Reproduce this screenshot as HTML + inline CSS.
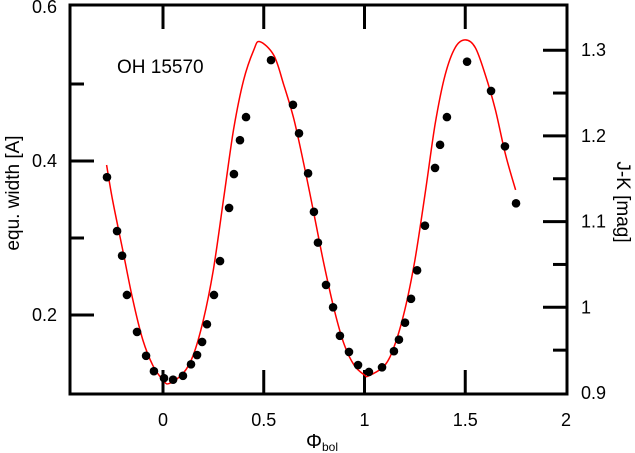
<!DOCTYPE html>
<html><head><meta charset="utf-8"><style>
html,body{margin:0;padding:0;background:#fff;}
svg{display:block;font-family:"Liberation Sans",Arial,sans-serif;}
</style></head><body>
<svg id="chart" width="635" height="453" viewBox="0 0 635 453" xmlns="http://www.w3.org/2000/svg">
<g id="axes"></g>
<path id="fit-line" fill="none" stroke="#ff0000" stroke-width="1.5"/>
<g id="points"></g>
<text x="117" y="73" font-size="19">OH 15570</text>
<text transform="translate(19,193) rotate(-90)" text-anchor="middle" font-size="19">equ. width [A]</text>
<text transform="translate(617,202) rotate(90)" text-anchor="middle" font-size="19">J-K [mag]</text>
<text x="306" y="448" font-size="20">Φ<tspan font-size="12" dy="3">bol</tspan></text>
</svg>
<script>
const phase=[-0.278,-0.228,-0.203,-0.179,-0.129,-0.084,-0.045,0.005,0.050,0.099,0.139,0.169,0.194,0.218,0.253,0.283,0.328,0.352,0.382,0.412,0.536,0.645,0.675,0.720,0.749,0.769,0.809,0.844,0.878,0.923,0.968,1.022,1.087,1.146,1.171,1.201,1.231,1.261,1.300,1.350,1.375,1.409,1.509,1.628,1.697,1.752];
const eqWidth=[0.379,0.309,0.277,0.226,0.178,0.147,0.127,0.118,0.116,0.121,0.136,0.148,0.165,0.188,0.226,0.270,0.339,0.383,0.427,0.457,0.531,0.473,0.436,0.384,0.334,0.294,0.239,0.210,0.173,0.152,0.135,0.126,0.132,0.153,0.168,0.190,0.221,0.258,0.316,0.391,0.421,0.457,0.529,0.491,0.419,0.345];
const fitPhase=[-0.28,-0.25,-0.2,-0.15,-0.1,-0.05,0,0.03,0.1,0.15,0.2,0.25,0.3,0.35,0.4,0.45,0.48,0.55,0.6,0.65,0.7,0.75,0.8,0.85,0.9,0.95,1.0,1.02,1.1,1.15,1.2,1.25,1.3,1.35,1.4,1.45,1.5,1.55,1.6,1.65,1.7,1.75];
const fitJK=[1.166,1.125,1.067,1.009,0.962,0.932,0.915,0.911,0.923,0.944,0.985,1.044,1.125,1.207,1.265,1.300,1.310,1.294,1.259,1.219,1.166,1.108,1.049,0.997,0.956,0.932,0.921,0.920,0.932,0.956,0.997,1.055,1.131,1.213,1.271,1.303,1.312,1.303,1.271,1.230,1.178,1.137];
const xTicks=[0,0.5,1,1.5,2];
const xTickLabels=["0","0.5","1","1.5","2"];
const yLeftTicks=[0.2,0.4,0.6];
const yLeftMinor=[0.3,0.5];
const yRightTicks=[0.9,1,1.1,1.2,1.3];
const yRightLabels=["0.9","1","1.1","1.2","1.3"];
const yRightMinor=[0.95,1.05,1.15,1.25];

const L=70,R=567,T=5,B=394;
const xs=p=>163+p*201.5;
const yl=v=>315-(v-0.2)*770;
const yr=v=>393-(v-0.9)*857;
const NS="http://www.w3.org/2000/svg";
const axes=document.getElementById('axes');
function mk(tag,attrs,parent){const e=document.createElementNS(NS,tag);for(const k in attrs)e.setAttribute(k,attrs[k]);parent.appendChild(e);return e;}
const frame=mk('rect',{x:L,y:T,width:R-L,height:B-T,fill:'none',stroke:'#000','stroke-width':3},axes);


xTicks.forEach((t,i)=>{
  const x=xs(t);
  if(t<2){
    const tb=mk('line',{x1:x,x2:x,y1:B,y2:B-24,stroke:'#000','stroke-width':3},axes);
    
    
    const tt=mk('line',{x1:x,x2:x,y1:T,y2:T+24,stroke:'#000','stroke-width':3},axes);
    
    
  }
  const lb=mk('text',{x:x,y:426,'text-anchor':'middle','font-size':18},axes);
  lb.textContent=xTickLabels[i];
  
  
});
yLeftTicks.forEach(v=>{
  const y=yl(v);
  if(v<0.6){const l=mk('line',{x1:L,x2:L+24,y1:y,y2:y,stroke:'#000','stroke-width':3},axes);
  
  }
  const t=mk('text',{x:57,y:y+6,'text-anchor':'end','font-size':18},axes);
  t.textContent=v.toFixed(1);
  
  
});
yLeftMinor.forEach(v=>{
  const l=mk('line',{x1:L,x2:L+14,y1:yl(v),y2:yl(v),stroke:'#000','stroke-width':3},axes);
  
  
});
yRightTicks.forEach((v,i)=>{
  const y=yr(v);
  if(v>0.9){const l=mk('line',{x1:R,x2:R-24,y1:y,y2:y,stroke:'#000','stroke-width':3},axes);
  
  }
  const t=mk('text',{x:581,y:y+6,'font-size':18},axes);
  t.textContent=yRightLabels[i];
  
  
});
yRightMinor.forEach(v=>{
  const l=mk('line',{x1:R,x2:R-14,y1:yr(v),y2:yr(v),stroke:'#000','stroke-width':3},axes);
  
  
});
const pts=document.getElementById('points');
phase.forEach((p,i)=>{
  const c=mk('circle',{cx:xs(p),cy:yl(eqWidth[i]),r:4.3,fill:'#000'},pts);
  
  
});
// Catmull-Rom smooth path through fit samples
const P=fitPhase.map((p,i)=>[xs(p),yr(fitJK[i])]);
let d='M'+P[0][0].toFixed(1)+','+P[0][1].toFixed(1);
for(let i=0;i<P.length-1;i++){
  const p0=P[Math.max(0,i-1)],p1=P[i],p2=P[i+1],p3=P[Math.min(P.length-1,i+2)];
  const c1=[p1[0]+(p2[0]-p0[0])/6,p1[1]+(p2[1]-p0[1])/6];
  const c2=[p2[0]-(p3[0]-p1[0])/6,p2[1]-(p3[1]-p1[1])/6];
  d+=' C'+c1.map(v=>v.toFixed(1)).join(',')+' '+c2.map(v=>v.toFixed(1)).join(',')+' '+p2.map(v=>v.toFixed(1)).join(',');
}
document.getElementById('fit-line').setAttribute('d',d);
</script>
</body></html>
